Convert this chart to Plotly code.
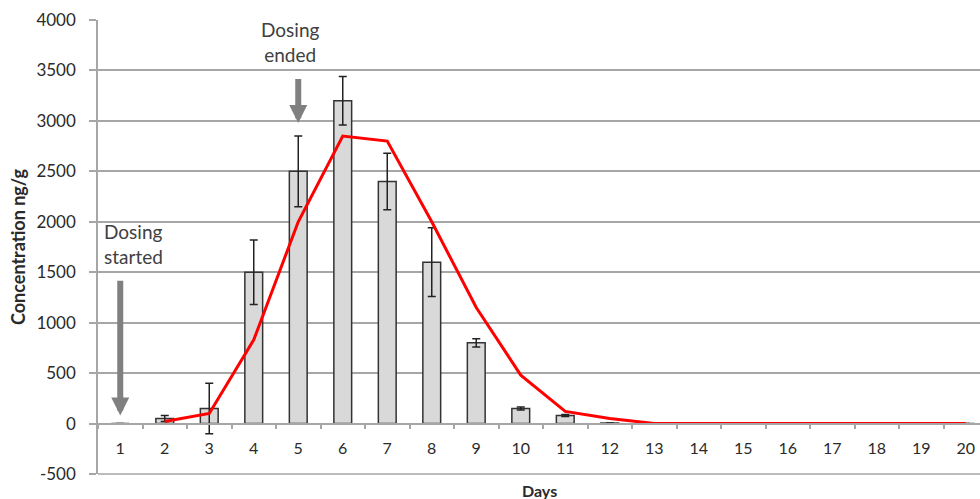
import plotly.graph_objects as go

days = [str(d) for d in range(1, 21)]
conc = [0, 50, 150, 1500, 2500, 3200, 2400, 1600, 800, 150, 80, 5, 0, 0, 0, 0, 0, 0, 0, 0]
err = [0, 30, 250, 320, 350, 240, 280, 340, 40, 15, 10, 0, 0, 0, 0, 0, 0, 0, 0, 0]
model_days = [str(d) for d in range(2, 21)]
model = [20, 100, 830, 2000, 2850, 2800, 2000, 1150, 480, 120, 50, 0, 0, 0, 0, 0, 0, 0, 0]
y_ticks = [-500, 0, 500, 1000, 1500, 2000, 2500, 3000, 3500, 4000]
y_labels = ["-500", "0", "500", "1000", "1500", "2000", "2500", "3000", "3500", "4000"]

FONT = "Lato"
TXT = "#404040"
LBL = "#2a2a2a"
GRID = "#a6a6a6"

fig = go.Figure()
fig.add_trace(go.Bar(
    x=days, y=conc, width=0.4,
    marker=dict(color="#d9d9d9", line=dict(color="#333333", width=1.5)),
    error_y=dict(type="data", array=err, visible=True, color="#222222", thickness=1.5, width=4),
    showlegend=False,
))
fig.add_trace(go.Scatter(
    x=model_days, y=model, mode="lines",
    line=dict(color="#ff0000", width=3), showlegend=False,
))

# category index 0 = day 1, index 4 = day 5
fig.add_annotation(x=0, y=1500, xref="x", yref="y", text="Dosing<br>started",
                   showarrow=False, xanchor="left", yanchor="bottom", xshift=-18, yshift=2,
                   align="left", font=dict(family=FONT, size=19, color=TXT))
fig.add_annotation(x=0, y=80, ax=0, ay=1430, axref="x", ayref="y", xref="x", yref="y",
                   text="", showarrow=True, arrowhead=2, arrowsize=0.6, arrowwidth=6,
                   arrowcolor="#808080")
fig.add_annotation(x=4, y=3800, xref="x", yref="y", text="Dosing<br>ended",
                   showarrow=False, xanchor="center", yanchor="middle", xshift=-8, yshift=-2,
                   font=dict(family=FONT, size=19, color=TXT))
fig.add_annotation(x=4, y=2980, ax=4, ay=3430, axref="x", ayref="y", xref="x", yref="y",
                   text="", showarrow=True, arrowhead=2, arrowsize=0.6, arrowwidth=6,
                   arrowcolor="#808080")
fig.add_annotation(x=0.5, y=0, xref="paper", yref="paper", text="<b>Days</b>",
                   showarrow=False, xanchor="center", yanchor="top", xshift=0, yshift=-5,
                   font=dict(family=FONT, size=16, color=LBL))

fig.add_shape(type="line", xref="paper", yref="paper", x0=0, x1=1, y0=0, y1=0,
              line=dict(color=GRID, width=1.5), layer="below")

fig.update_layout(
    width=980, height=499,
    margin=dict(l=98, r=0, t=20, b=25),
    paper_bgcolor="white", plot_bgcolor="white",
    font=dict(family=FONT, size=17, color=LBL),
    bargap=0.6,
)
fig.update_xaxes(
    type="category", categoryorder="array", categoryarray=days,
    range=[-0.5, 19.32],
    anchor="free", position=500 / 4500,
    showgrid=False, showline=True, linecolor=GRID, linewidth=1.5,
    ticks="outside", tickson="boundaries", ticklen=5, tickcolor=GRID, tickwidth=1.5,
    ticklabelstandoff=10,
    tickfont=dict(family=FONT, size=16, color=LBL),
)
fig.update_yaxes(
    range=[-500, 4000], tickvals=y_ticks, ticktext=y_labels,
    showgrid=True, gridcolor=GRID, gridwidth=1.5,
    zeroline=False,
    showline=True, linecolor=GRID, linewidth=1.5,
    ticks="outside", ticklen=7, tickcolor=GRID, tickwidth=1.5,
    ticklabelstandoff=10,
    tickfont=dict(family=FONT, size=17, color=LBL),
    title=dict(text="<b>Concentration ng/g</b>", font=dict(family=FONT, size=18, color=LBL), standoff=6),
)

fig.write_html("out.html")
